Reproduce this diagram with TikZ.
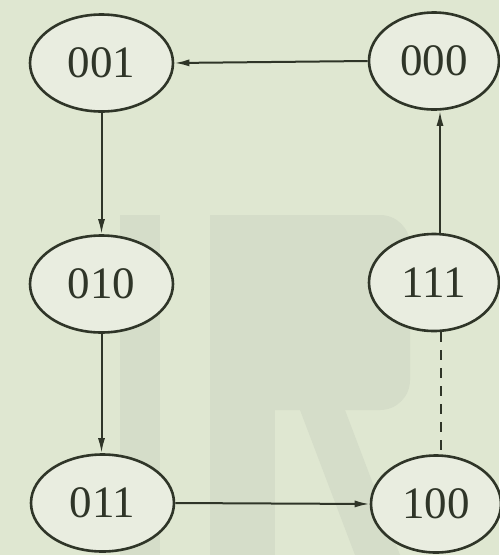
\documentclass[tikz,border=0pt]{standalone}
\usepackage{fontspec}
\setmainfont{Liberation Serif}
\usetikzlibrary{shapes.geometric,arrows.meta}
\definecolor{bgc}{HTML}{DFE7D1}
\definecolor{wmc}{HTML}{D5DDC9}
\definecolor{fillc}{HTML}{E9EDE0}
\definecolor{linec}{HTML}{2F3528}
\tikzset{
  state/.style={ellipse, draw=linec, line width=2.6pt, fill=fillc, inner sep=0pt,
    minimum height=97pt, text=linec, font=\fontsize{45}{45}\selectfont},
  lstate/.style={state, minimum width=143pt},
  rstate/.style={state, minimum width=130pt},
  conn/.style={draw=linec, line width=2pt, -{Latex[length=15pt,width=7pt]}},
  dconn/.style={draw=linec, line width=2pt, dash pattern=on 10pt off 8pt}
}
\begin{document}
\begin{tikzpicture}[x=1pt,y=-1pt]
\useasboundingbox (0,0) rectangle (499,555);
\fill[bgc] (0,0) rectangle (499,555);
% faint watermark shapes
\fill[wmc] (120,215) rectangle (160,555);
\fill[wmc] (210,215) rectangle (275,555);
\fill[wmc] (275,215) -- (380,215) to[out=0,in=90] (410,245) -- (410,380) to[out=270,in=0] (380,410) -- (275,410) -- (275,270) -- (360,270) -- (360,355) -- (275,355) -- cycle;
\fill[wmc] (300,410) -- (345,410) -- (400,555) -- (355,555) -- cycle;
% states
\node[lstate] (n001) at (101.5,63) {001};
\node[rstate] (n000) at (434,61) {000};
\node[lstate] (n010) at (101.5,284) {010};
\node[rstate] (n111) at (434,282.5) {111};
\node[lstate] (n011) at (102.5,503) {011};
\node[rstate] (n100) at (436,504) {100};
% connectors
\draw[conn] (n000.west) -- (n001.east);
\draw[conn] (n001.south) -- (n010.north);
\draw[conn] (n010.south) -- ([xshift=-1pt]n011.north);
\draw[conn] (n011.east) -- (n100.west);
\draw[conn] ([xshift=6pt]n111.north) -- ([xshift=6pt]n000.south);
\draw[dconn] ([xshift=7pt]n111.south) -- ([xshift=5pt]n100.north);
\end{tikzpicture}
\end{document}
